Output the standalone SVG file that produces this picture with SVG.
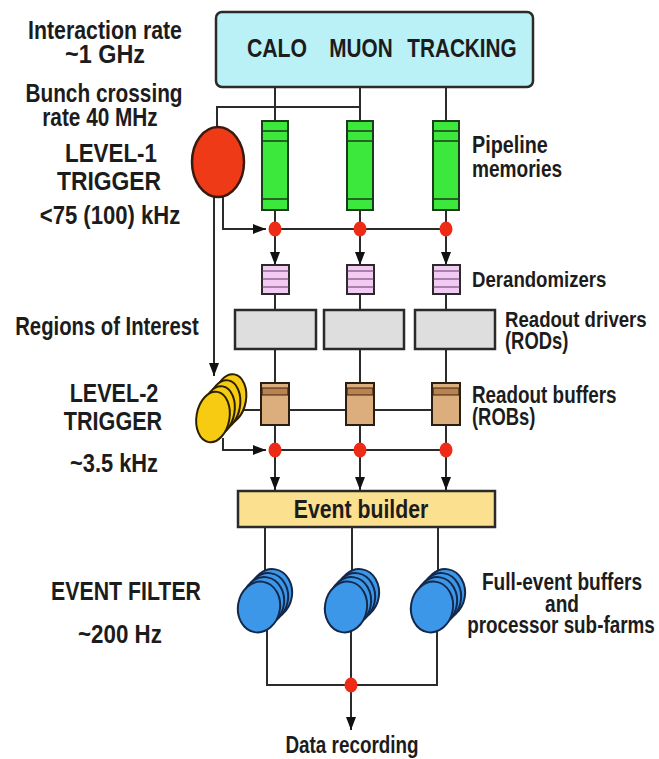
<svg xmlns="http://www.w3.org/2000/svg" width="659" height="759" viewBox="0 0 659 759">
<defs>
<style>
.t{font-family:"Liberation Sans",Arial,sans-serif;font-weight:bold;fill:#1c1c1c}
.lt{font-size:26px;text-anchor:middle}
.rt{font-size:23px}
.ln{stroke:#2b2b2b;stroke-width:2;fill:none}
.dot{fill:#ee2b16}
.pipe{fill:#3de83d;stroke:#1c3a1c;stroke-width:2}
.pl{stroke:#1c3a1c;stroke-width:1.5}
.der{fill:#f3caf3;stroke:#2a2a2a;stroke-width:2}
.dl{stroke:#5a3a5a;stroke-width:1.2}
.rod{fill:#dedede;stroke:#2a2a2a;stroke-width:2.5}
.rob{fill:#dcae7e;stroke:#2a1e12;stroke-width:2}
.yel{fill:#f7cb12;stroke:#2a2000;stroke-width:2}
.blu{fill:#3d97e8;stroke:#13284a;stroke-width:2}
</style>
<marker id="ah" markerUnits="userSpaceOnUse" markerWidth="13" markerHeight="10" refX="13" refY="5" orient="auto">
<path d="M0,0 L13,5 L0,10 z" fill="#111"/>
</marker>
</defs>
<rect width="659" height="759" fill="#ffffff"/>

<g id="connectors">
<path class="ln" d="M275 87V121 M360 87V121 M446 87V121"/>
<path class="ln" d="M360 107H217V127"/>
<path class="ln" d="M223 196V229H266" marker-end="url(#ah)"/>
<path class="ln" d="M275 229H446"/>
<path class="ln" d="M275 210V265" marker-end="url(#ah)"/>
<path class="ln" d="M360 210V265" marker-end="url(#ah)"/>
<path class="ln" d="M446 210V265" marker-end="url(#ah)"/>
<path class="ln" d="M214 196V376" marker-end="url(#ah)"/>
<path class="ln" d="M275 294V310 M360 294V310 M446 294V310"/>
<path class="ln" d="M275 349V383 M360 349V383 M446 349V383"/>
<path class="ln" d="M238 410H446"/>
<path class="ln" d="M223 438V450H266" marker-end="url(#ah)"/>
<path class="ln" d="M275 450H446"/>
<path class="ln" d="M275 425V490" marker-end="url(#ah)"/>
<path class="ln" d="M360 425V490" marker-end="url(#ah)"/>
<path class="ln" d="M446 425V490" marker-end="url(#ah)"/>
<path class="ln" d="M265 527V575 M352 527V575 M438 527V575"/>
<path class="ln" d="M267 620V685H437V620"/>
<path class="ln" d="M351 620V730" marker-end="url(#ah)"/>
<ellipse class="dot" cx="275" cy="229" rx="6.5" ry="7.5"/>
<ellipse class="dot" cx="360" cy="229" rx="6.5" ry="7.5"/>
<ellipse class="dot" cx="446" cy="229" rx="6.5" ry="7.5"/>
<ellipse class="dot" cx="275" cy="450" rx="6.5" ry="7.5"/>
<ellipse class="dot" cx="360" cy="450" rx="6.5" ry="7.5"/>
<ellipse class="dot" cx="446" cy="450" rx="6.5" ry="7.5"/>
<ellipse class="dot" cx="351" cy="685" rx="6.5" ry="7.5"/>
</g>

<g id="detectors">
<rect x="216" y="12" width="317" height="75" rx="6" fill="#b9f1f7" stroke="#2a2a2a" stroke-width="2.5"/>
<text class="t" font-size="25" text-anchor="middle" transform="matrix(0.85 0 0 1 277 57)">CALO</text>
<text class="t" font-size="25" text-anchor="middle" transform="matrix(0.83 0 0 1 361 57)">MUON</text>
<text class="t" font-size="25" text-anchor="middle" transform="matrix(0.83 0 0 1 462 57)">TRACKING</text>
</g>

<g id="level1">
<ellipse cx="218" cy="162" rx="26" ry="35" fill="#ee3a16" stroke="#3a1a10" stroke-width="2.5"/>
</g>

<g id="pipelines">
<rect class="pipe" x="262" y="121" width="26" height="89"/>
<rect class="pipe" x="347" y="121" width="26" height="89"/>
<rect class="pipe" x="433" y="121" width="26" height="89"/>
<path class="pl" d="M262 131H288M262 141H288M262 199H288M347 131H373M347 141H373M347 199H373M433 131H459M433 141H459M433 199H459"/>
</g>

<g id="derandomizers">
<rect class="der" x="262" y="265" width="27" height="29"/>
<rect class="der" x="347" y="265" width="27" height="29"/>
<rect class="der" x="433" y="265" width="27" height="29"/>
<path class="dl" d="M262 271H289M262 279H289M262 287H289M347 271H374M347 279H374M347 287H374M433 271H460M433 279H460M433 287H460"/>
</g>

<g id="rods">
<rect class="rod" x="235" y="310" width="81" height="39"/>
<rect class="rod" x="324" y="310" width="80" height="39"/>
<rect class="rod" x="415" y="310" width="80" height="39"/>
</g>

<g id="robs">
<rect class="rob" x="261" y="383" width="28" height="42"/>
<rect class="rob" x="346" y="383" width="28" height="42"/>
<rect class="rob" x="432" y="383" width="28" height="42"/>
<path d="M262 388H288V395H262Z M347 388H373V395H347Z M433 388H459V395H433Z" fill="#b8834f" stroke="#3a2412" stroke-width="1.2"/>
</g>

<g id="level2">
<ellipse class="yel" cx="230" cy="399" rx="16" ry="25" transform="rotate(10 230 399)"/>
<ellipse class="yel" cx="224" cy="405" rx="16" ry="25" transform="rotate(10 224 405)"/>
<ellipse class="yel" cx="218.5" cy="411" rx="16" ry="25" transform="rotate(10 218.5 411)"/>
<ellipse class="yel" cx="213" cy="417" rx="16.5" ry="25.5" transform="rotate(10 213 417)"/>
</g>

<g id="event-builder">
<rect x="238" y="491" width="257" height="36" fill="#fbe08f" stroke="#2a2a2a" stroke-width="2.5"/>
<text class="t" font-size="25" text-anchor="middle" transform="matrix(0.85 0 0 1 361 518)">Event builder</text>
</g>

<g id="farm1">
<ellipse class="blu" cx="271" cy="594" rx="21" ry="25" transform="rotate(10 271 594)"/>
<ellipse class="blu" cx="267" cy="598" rx="21" ry="25" transform="rotate(10 267 598)"/>
<ellipse class="blu" cx="263" cy="602" rx="21" ry="25" transform="rotate(10 263 602)"/>
<ellipse class="blu" cx="259" cy="607" rx="21" ry="25.5" transform="rotate(10 259 607)"/>
</g>
<g id="farm2">
<ellipse class="blu" cx="358" cy="594" rx="21" ry="25" transform="rotate(10 358 594)"/>
<ellipse class="blu" cx="354" cy="598" rx="21" ry="25" transform="rotate(10 354 598)"/>
<ellipse class="blu" cx="350" cy="602" rx="21" ry="25" transform="rotate(10 350 602)"/>
<ellipse class="blu" cx="346" cy="607" rx="21" ry="25.5" transform="rotate(10 346 607)"/>
</g>
<g id="farm3">
<ellipse class="blu" cx="444" cy="594" rx="21" ry="25" transform="rotate(10 444 594)"/>
<ellipse class="blu" cx="440" cy="598" rx="21" ry="25" transform="rotate(10 440 598)"/>
<ellipse class="blu" cx="436" cy="602" rx="21" ry="25" transform="rotate(10 436 602)"/>
<ellipse class="blu" cx="432" cy="607" rx="21" ry="25.5" transform="rotate(10 432 607)"/>
</g>

<g id="left-labels">
<text class="t lt" transform="matrix(0.82 0 0 1 105 39)">Interaction rate</text>
<text class="t lt" transform="matrix(0.9 0 0 1 105 63)">~1 GHz</text>
<text class="t lt" transform="matrix(0.8 0 0 1 104 102)">Bunch crossing</text>
<text class="t lt" transform="matrix(0.8 0 0 1 100 126)">rate 40 MHz</text>
<text class="t lt" transform="matrix(0.86 0 0 1 111 162)">LEVEL-1</text>
<text class="t lt" transform="matrix(0.88 0 0 1 109 190)">TRIGGER</text>
<text class="t lt" transform="matrix(0.85 0 0 1 110 224)">&lt;75 (100) kHz</text>
<text class="t lt" transform="matrix(0.78 0 0 1 107 335)">Regions of Interest</text>
<text class="t lt" transform="matrix(0.83 0 0 1 114 402)">LEVEL-2</text>
<text class="t lt" transform="matrix(0.83 0 0 1 113 430)">TRIGGER</text>
<text class="t lt" transform="matrix(0.84 0 0 1 114 472)">~3.5 kHz</text>
<text class="t lt" transform="matrix(0.82 0 0 1 126 600)">EVENT FILTER</text>
<text class="t lt" transform="matrix(0.86 0 0 1 120 643)">~200 Hz</text>
</g>

<g id="right-labels">
<text class="t rt" transform="matrix(0.86 0 0 1 472 153)">Pipeline</text>
<text class="t rt" transform="matrix(0.83 0 0 1 472 177)">memories</text>
<text class="t rt" transform="matrix(0.81 0 0 1 472 287)">Derandomizers</text>
<text class="t rt" transform="matrix(0.81 0 0 1 505 327)">Readout drivers</text>
<text class="t rt" transform="matrix(0.8 0 0 1 505 349)">(RODs)</text>
<text class="t rt" transform="matrix(0.82 0 0 1 472 403)">Readout buffers</text>
<text class="t rt" transform="matrix(0.8 0 0 1 472 425)">(ROBs)</text>
<text class="t rt" text-anchor="middle" transform="matrix(0.83 0 0 1 562 590)">Full-event buffers</text>
<text class="t rt" text-anchor="middle" transform="matrix(0.83 0 0 1 562 612)">and</text>
<text class="t rt" text-anchor="middle" transform="matrix(0.82 0 0 1 561 633)">processor sub-farms</text>
<text class="t" font-size="23" text-anchor="middle" transform="matrix(0.82 0 0 1 352 753)">Data recording</text>
</g>
</svg>
